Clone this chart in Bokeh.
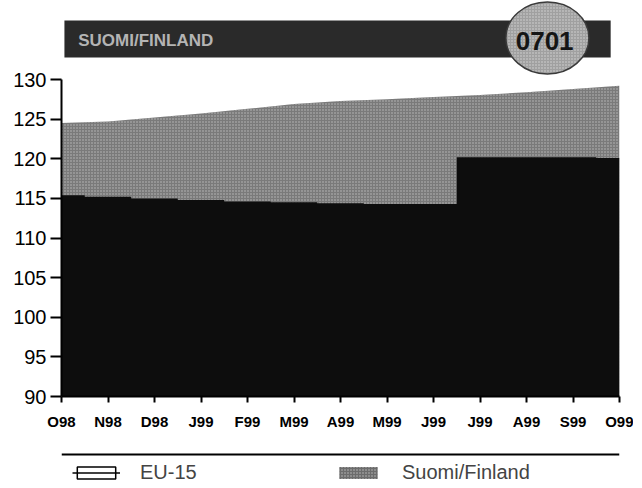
from bokeh.plotting import figure
from bokeh.models import (ColumnDataSource, FixedTicker, BoxAnnotation, Label,
                          Span, Legend, LegendItem, Range1d)
from bokeh.layouts import column
from bokeh.embed import file_html
from bokeh.resources import INLINE

# ---------------- data ----------------
months = ["O98", "N98", "D98", "J99", "F99", "M99", "A99",
          "M99", "J99", "J99", "A99", "S99", "O99"]
finland = [124.5, 124.7, 125.2, 125.7, 126.3, 126.9, 127.3,
           127.5, 127.8, 128.05, 128.4, 128.8, 129.2]
eu15 = [115.4, 115.2, 115.0, 114.8, 114.6, 114.5, 114.4,
        114.3, 114.3, 120.2, 120.2, 120.2, 120.1]
y_ticks = [90, 95, 100, 105, 110, 115, 120, 125, 130]
series_names = ["EU-15", "Suomi/Finland"]
country_title = "SUOMI/FINLAND"
badge_code = "0701"

# ---------------- styles ----------------
FONT = "Liberation Sans"
FIN_COLOR = "#7a7a7a"
FIN_HATCH = "#bebebe"
EU_COLOR = "#0d0d0d"

x = list(range(len(months)))
src = ColumnDataSource(dict(x=x, fin=finland, eu=eu15))

y_base = y_ticks[0]
y_top_axis = y_ticks[-1]

W = 633
p = figure(width=W, height=440, output_backend="svg", toolbar_location=None,
           title=None, x_range=Range1d(x[0], x[-1]),
           y_range=Range1d(y_base, 139.97),
           min_border_left=50, min_border_right=14, min_border_top=0,
           min_border_bottom=44)
p.outline_line_color = None
p.background_fill_color = "white"
p.border_fill_color = "white"
p.xgrid.visible = False
p.ygrid.visible = False

r_fin = p.varea(x="x", y1=y_base, y2="fin", source=src, fill_color=FIN_COLOR,
                hatch_pattern="dot", hatch_color=FIN_HATCH, hatch_scale=3,
                hatch_weight=1)
r_eu = p.varea_step(x="x", y1=y_base, y2="eu", source=src, step_mode="center",
                    fill_color=EU_COLOR)

# axes
p.yaxis.ticker = FixedTicker(ticks=y_ticks)
p.yaxis.bounds = (y_base, y_top_axis)
p.yaxis.axis_line_width = 2
p.yaxis.major_tick_line_width = 2
p.yaxis.major_tick_out = 11
p.yaxis.major_tick_in = 0
p.yaxis.minor_tick_line_color = None
p.yaxis.major_label_standoff = 4
p.yaxis.major_label_text_font = FONT
p.yaxis.major_label_text_font_size = "20px"
p.yaxis.major_label_text_color = "black"

p.xaxis.ticker = FixedTicker(ticks=x)
p.xaxis.major_label_overrides = {i: m for i, m in enumerate(months)}
p.xaxis.axis_line_width = 2
p.xaxis.major_tick_line_width = 2
p.xaxis.major_tick_out = 6
p.xaxis.major_tick_in = 0
p.xaxis.minor_tick_line_color = None
p.xaxis.major_label_standoff = 10
p.xaxis.major_label_text_font = FONT
p.xaxis.major_label_text_font_size = "15px"
p.xaxis.major_label_text_font_style = "bold"
p.xaxis.major_label_text_color = "black"

# title banner with badge
p.add_layout(BoxAnnotation(left=0.063, right=11.81, top=137.45, bottom=132.78,
                           fill_color="#2a2a2a", fill_alpha=1, line_color=None,
                           level="underlay"))
p.add_layout(Label(x=0.36, y=134.92, text=country_title, text_font=FONT,
                   text_font_size="17px", text_font_style="bold",
                   text_color="#b4b4b4", text_baseline="middle"))
p.ellipse(x=[10.45], y=[135.24], width=83, height=72, width_units="screen",
          height_units="screen", fill_color="#a0a0a0", line_color="#3a3a3a",
          line_width=1.5, hatch_pattern="dot", hatch_color="#d6d6d6",
          hatch_scale=3, hatch_weight=1)
p.add_layout(Label(x=10.39, y=134.8, text=badge_code, text_font=FONT,
                   text_font_size="26px", text_font_style="bold",
                   text_color="#151515", text_align="center",
                   text_baseline="middle"))

# ---------------- legend strip ----------------
p2 = figure(width=W, height=44, output_backend="svg", toolbar_location=None,
            title=None, x_range=Range1d(0, 1), y_range=Range1d(0, 44),
            min_border_left=61, min_border_right=0, min_border_top=0,
            min_border_bottom=0)
p2.axis.visible = False
p2.xgrid.visible = False
p2.ygrid.visible = False
p2.outline_line_color = None
p2.add_layout(Span(location=30, dimension="width", line_color="black",
                   line_width=2))
nan = float("nan")
proxy = ColumnDataSource(dict(l=[nan], r=[nan], t=[nan], b=[nan],
                              xs=[nan], ys=[nan]))
lg_eu_box = p2.quad(left="l", right="r", top="t", bottom="b", source=proxy,
                    fill_color="white", line_color="black", line_width=1.5)
lg_eu_line = p2.line(x="xs", y="ys", source=proxy, line_color="black",
                     line_width=1.5)
lg_fin_box = p2.quad(left="l", right="r", top="t", bottom="b", source=proxy,
                     fill_color="#6c6c6c", line_color=None,
                     hatch_pattern="dot", hatch_color=FIN_HATCH,
                     hatch_scale=3, hatch_weight=1)
legend = Legend(items=[LegendItem(label=series_names[0], renderers=[lg_eu_box, lg_eu_line]),
                       LegendItem(label=series_names[1], renderers=[lg_fin_box])],
                orientation="horizontal", location=(11, 0),
                glyph_width=48, glyph_height=15, label_width=194,
                label_standoff=20, spacing=0, padding=0, margin=0,
                label_text_font=FONT, label_text_font_size="20px",
                border_line_color=None, background_fill_alpha=0)
p2.add_layout(legend)

layout = column(p, p2, spacing=0)
open("out.html", "w").write(file_html(layout, INLINE))
